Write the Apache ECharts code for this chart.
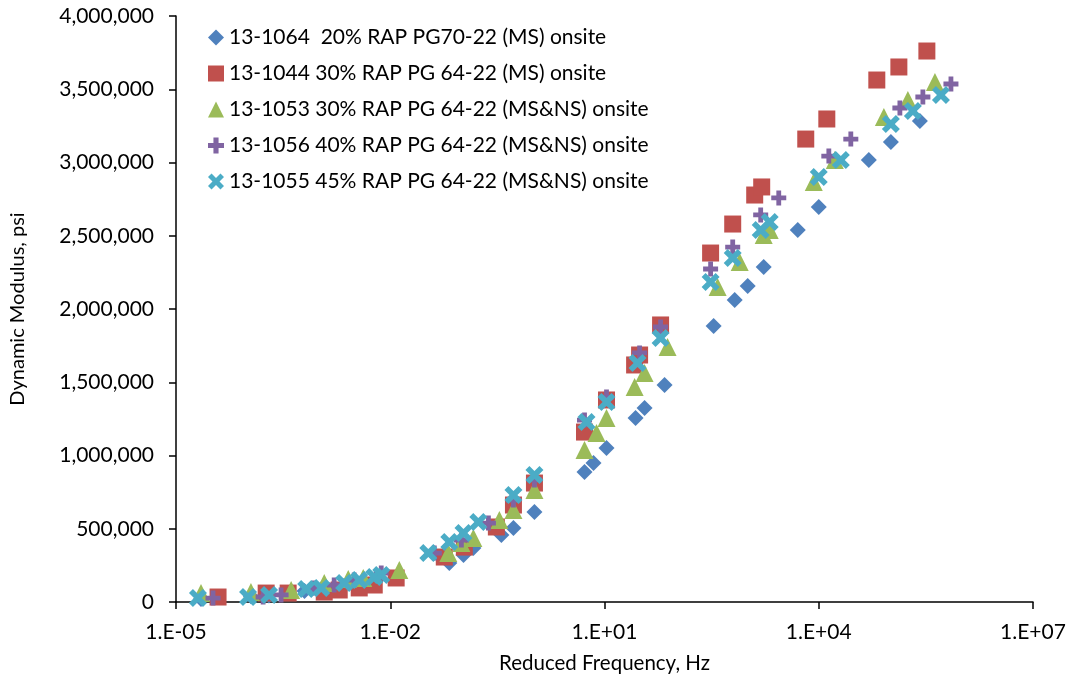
<!DOCTYPE html>
<html>
<head>
<meta charset="utf-8">
<script src="https://cdn.jsdelivr.net/npm/echarts@6/dist/echarts.min.js"></script>
<style>html,body{margin:0;padding:0;background:#fff}#c{width:1073px;height:683px}</style>
</head>
<body>
<div id="c"></div>
<script>
// Reduced frequency (Hz), dynamic modulus (psi)
const seriesNames = [
  '13-1064  20% RAP PG70-22 (MS) onsite',
  '13-1044 30% RAP PG 64-22 (MS) onsite',
  '13-1053 30% RAP PG 64-22 (MS&NS) onsite',
  '13-1056 40% RAP PG 64-22 (MS&NS) onsite',
  '13-1055 45% RAP PG 64-22 (MS&NS) onsite'
];
const freq1064 = [2.24e-5, 1.12e-4, 2.0e-4, 6.3e-4, 1.07e-3, 2.24e-3, 3.72e-3, 6.31e-3,
  0.0671, 0.106, 0.146, 0.360, 0.531, 1.045,
  5.25, 7.01, 10.67, 27.2, 36.4, 69.3,
  337, 665, 1012, 1694, 5082, 10000, 50230, 102300, 260600];
const mod1064 = [20000, 40000, 45000, 75000, 85000, 110000, 125000, 145000,
  266000, 321000, 369000, 457000, 505000, 614000,
  887000, 949000, 1051000, 1256000, 1324000, 1481000,
  1884000, 2061000, 2157000, 2287000, 2539000, 2696000, 3017000, 3140000, 3283000];

const freq1044 = [3.88e-5, 1.83e-4, 3.72e-4, 1.19e-3, 1.93e-3, 3.68e-3, 5.97e-3, 1.21e-2,
  0.0571, 0.109, 0.306, 0.531, 1.045,
  5.25, 10.67, 26.4, 31.0, 61.0,
  306, 624, 1268, 1589, 6577, 12970, 65010, 132400, 326600];
const mod1044 = [34000, 61000, 61000, 68000, 82000, 96000, 116000, 164000,
  307000, 375000, 512000, 662000, 812000,
  1160000, 1379000, 1618000, 1686000, 1891000,
  2382000, 2580000, 2778000, 2833000, 3160000, 3297000, 3563000, 3652000, 3761000];

const freq1053 = [2.24e-5, 1.12e-4, 4.09e-4, 1.19e-3, 2.58e-3, 4.19e-3, 1.34e-2,
  0.0650, 0.0991, 0.146, 0.337, 0.531, 1.045,
  5.25, 7.73, 10.67, 26.4, 36.4, 76.4,
  384, 782, 1694, 2056, 8511, 16790, 81660, 177000, 423600];
const mod1053 = [61000, 68000, 82000, 130000, 157000, 164000, 218000,
  334000, 403000, 437000, 560000, 628000, 765000,
  1037000, 1154000, 1256000, 1468000, 1563000, 1741000,
  2150000, 2321000, 2505000, 2539000, 2867000, 3017000, 3311000, 3427000, 3550000];

const freq1056 = [3.30e-5, 1.66e-4, 2.96e-4, 8.61e-4, 1.64e-3, 3.13e-3, 7.48e-3,
  0.0414, 0.0991, 0.237, 0.531, 1.045,
  5.25, 10.67, 31.0, 61.0,
  306, 624, 1538, 2754, 13840, 28120, 136800, 287100, 709600];
const mod1056 = [27000, 34000, 48000, 96000, 116000, 150000, 198000,
  334000, 423000, 539000, 696000, 833000,
  1242000, 1399000, 1700000, 1877000,
  2273000, 2423000, 2642000, 2758000, 3044000, 3160000, 3372000, 3447000, 3536000];

const freq1055 = [2.03e-5, 1.02e-4, 2.01e-4, 6.65e-4, 1.08e-3, 2.26e-3, 3.68e-3, 5.97e-3, 7.48e-3,
  0.0341, 0.0671, 0.106, 0.171, 0.531, 1.045,
  5.60, 10.67, 29.0, 61.0,
  306, 624, 1538, 2056, 10000, 20370, 102300, 208000, 514000];
const mod1055 = [27000, 34000, 48000, 89000, 96000, 130000, 150000, 171000, 184000,
  334000, 410000, 471000, 546000, 730000, 867000,
  1229000, 1365000, 1631000, 1802000,
  2184000, 2348000, 2539000, 2594000, 2901000, 3017000, 3263000, 3352000, 3461000];

const xTicks = [1e-5, 1e-2, 1e1, 1e4, 1e7];
const yMax = 4000000, yStep = 500000;

const colors = ['#4F81BD', '#C0504D', '#9BBB59', '#8064A2', '#4BACC6'];
const plusPath = 'path://M3.4,0H6.6V3.4H10V6.6H6.6V10H3.4V6.6H0V3.4H3.4Z';
const xPath = 'path://M0,2.2L2.2,0L5,2.8L7.8,0L10,2.2L7.2,5L10,7.8L7.8,10L5,7.2L2.2,10L0,7.8L2.8,5Z';

function pairs(f, m) { return f.map((v, i) => [v, m[i]]); }
const dataSets = [pairs(freq1064, mod1064), pairs(freq1044, mod1044), pairs(freq1053, mod1053),
                  pairs(freq1056, mod1056), pairs(freq1055, mod1055)];
const symbols = ['diamond', 'rect', 'triangle', plusPath, xPath];
const sizes = [16, 17, 18, 15, 18];

function fmtExp(v) {
  const e = Math.round(Math.log10(v));
  const s = e < 0 ? '-' : '+';
  const a = Math.abs(e);
  return '1.E' + s + (a < 10 ? '0' + a : a);
}

const font = 'Lato, "Open Sans", sans-serif';
const chart = echarts.init(document.getElementById('c'));
chart.setOption({
  animation: false,
  backgroundColor: '#fff',
  grid: { left: 175, right: 40, top: 16, bottom: 81 },
  legend: {
    orient: 'vertical', left: 203, top: 22,
    itemWidth: 16, itemHeight: 16, itemGap: 15,
    textStyle: { fontFamily: font, fontSize: 21, color: '#000', lineHeight: 16 },
    data: seriesNames
  },
  xAxis: {
    type: 'log', logBase: 10, min: xTicks[0], max: xTicks[xTicks.length - 1], interval: 3,
    name: 'Reduced Frequency, Hz', nameLocation: 'middle', nameGap: 51,
    nameTextStyle: { fontFamily: font, fontSize: 20.5, color: '#000' },
    axisLine: { lineStyle: { color: '#000', width: 1.5 } },
    axisTick: { show: true, length: 7, lineStyle: { color: '#000', width: 1.5 } },
    minorTick: { show: false },
    splitLine: { show: false },
    axisLabel: { fontFamily: font, fontSize: 21, color: '#000', margin: 20, formatter: fmtExp }
  },
  yAxis: {
    type: 'value', min: 0, max: yMax, interval: yStep,
    name: 'Dynamic Modulus, psi', nameLocation: 'middle', nameGap: 148,
    nameTextStyle: { fontFamily: font, fontSize: 20, color: '#000' },
    axisLine: { show: true, lineStyle: { color: '#000', width: 1.5 } },
    axisTick: { show: true, length: 7, lineStyle: { color: '#000', width: 1.5 } },
    splitLine: { show: false },
    axisLabel: { fontFamily: font, fontSize: 21, color: '#000', margin: 22,
      formatter: v => v.toLocaleString('en-US') }
  },
  series: seriesNames.map((n, i) => ({
    name: n, type: 'scatter', data: dataSets[i],
    symbol: symbols[i], symbolSize: sizes[i],
    itemStyle: { color: colors[i], opacity: 1 },
    emphasis: { disabled: true }
  }))
});
</script>
</body>
</html>
